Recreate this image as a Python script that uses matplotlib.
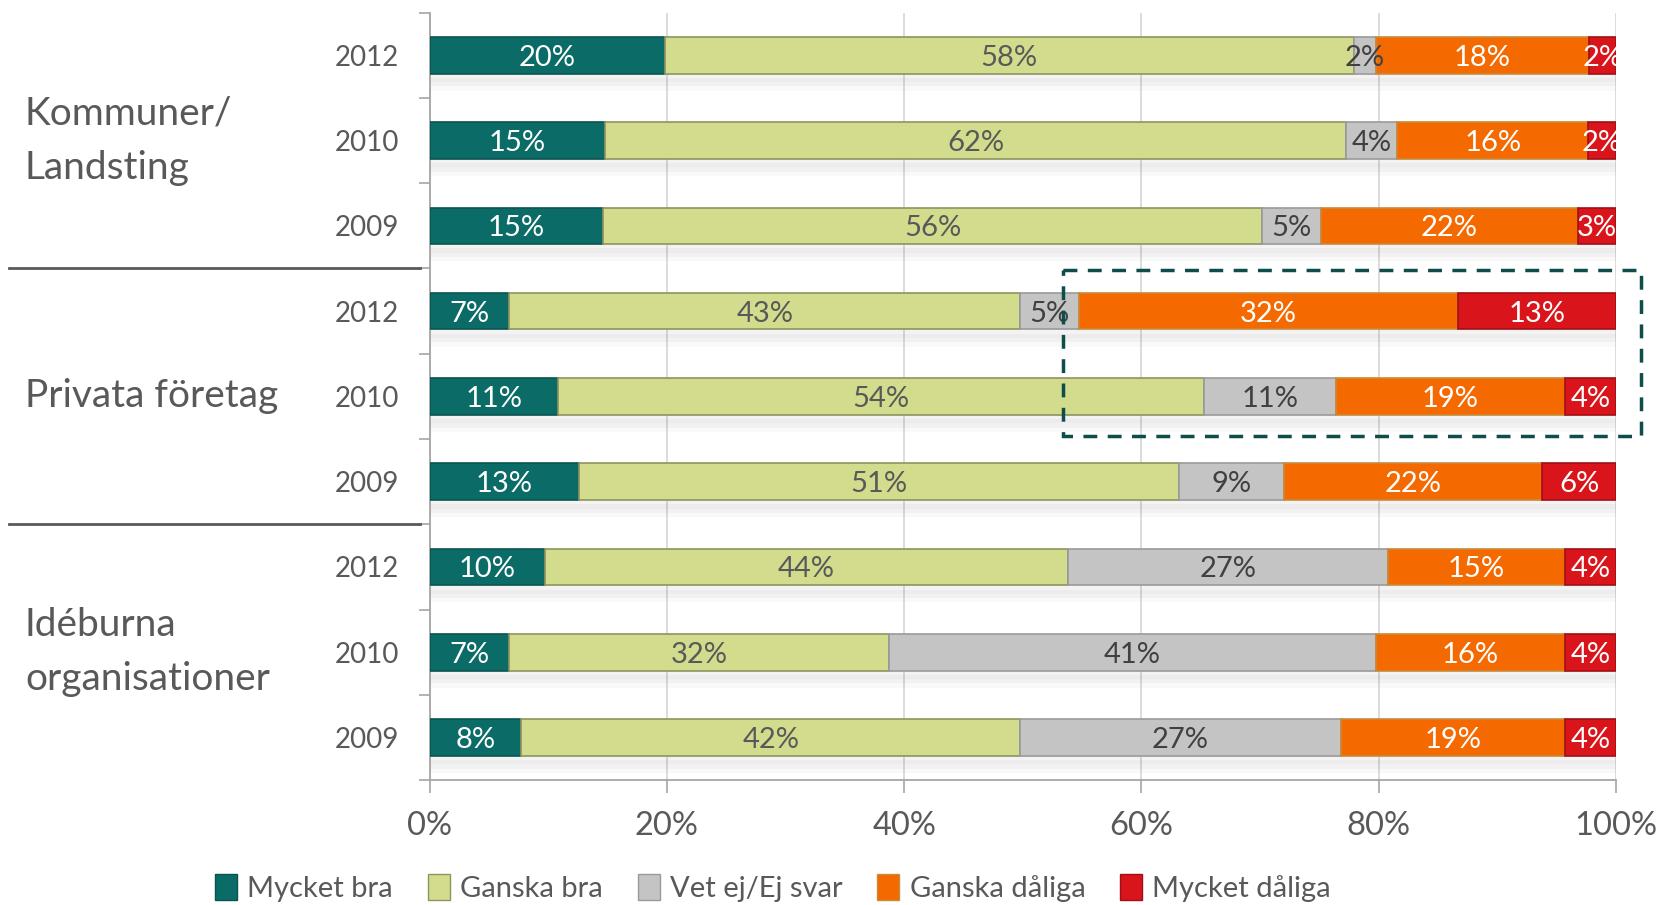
import matplotlib
matplotlib.use("Agg")
import matplotlib.pyplot as plt
from matplotlib.patches import Patch, Rectangle
import matplotlib.transforms as mtransforms
import numpy as np

plt.rcParams['font.family'] = ['Lato', 'DejaVu Sans']

years = ["2012", "2010", "2009", "2012", "2010", "2009", "2012", "2010", "2009"]
groups = ["Kommuner/\nLandsting", "Privata företag", "Idéburna\norganisationer"]
categories = ["Mycket bra", "Ganska bra", "Vet ej/Ej svar", "Ganska dåliga", "Mycket dåliga"]

mycket_bra    = [19.8, 14.8, 14.6, 6.7, 10.8, 12.6, 9.7, 6.7, 7.7]
ganska_bra    = [58.1, 62.49, 55.6, 43.1, 54.49, 50.6, 44.1, 32.0, 42.1]
vet_ej        = [1.9, 4.3, 4.9, 4.9, 11.1, 8.8, 27.0, 41.1, 27.0]
ganska_daliga = [17.9, 16.1, 21.7, 32.0, 19.3, 21.8, 14.9, 15.9, 18.9]
mycket_daliga = [2.3, 2.3, 3.2, 13.3, 4.3, 6.2, 4.3, 4.3, 4.3]

series = [mycket_bra, ganska_bra, vet_ej, ganska_daliga, mycket_daliga]
colors = ["#0B6B66", "#D3DC8C", "#C4C4C4", "#F46A00", "#D9141B"]
edges = ["#0A5450", "#8E9460", "#9A9A9A", "#C98A3A", "#A01015"]
text_colors = ["white", "#595959", "#404040", "white", "white"]

fig = plt.figure(figsize=(16.59, 9.05), dpi=100)
ax = fig.add_axes([0.259, 0.138, 0.715, 0.848])

y = np.arange(len(years))
left = np.zeros(len(years))
bar_h = 0.43
for vals, c, ec, tc in zip(series, colors, edges, text_colors):
    vals = np.array(vals)
    # soft shadow
    for k, a in enumerate([0.07, 0.05, 0.03]):
        ax.barh(y + bar_h / 2 + 0.05 + k * 0.05, vals, left=left, height=0.1,
                color="#6d5f5f", alpha=a, linewidth=0, zorder=1)
    ax.barh(y, vals, left=left, height=bar_h, color=c, edgecolor=ec,
            linewidth=1.2, zorder=3)
    for yi, (l, v) in enumerate(zip(left, vals)):
        ax.text(l + v / 2, yi + 0.03, f"{int(round(v))}%", ha="center", va="center",
                color=tc, fontsize=21, zorder=5)
    left = left + vals

ax.set_xlim(0, 100)
ax.set_ylim(8.5, -0.5)
ax.set_xticks(np.arange(0, 101, 20))
ax.set_xticklabels([f"{v}%" for v in range(0, 101, 20)])
ax.tick_params(axis="x", labelsize=23.5, labelcolor="#595959", color="#A6A6A6",
               length=9, width=1.2, pad=13)
ax.set_yticks(y)
ax.set_yticklabels(years)
ax.tick_params(axis="y", which="major", length=0, labelsize=20,
               labelcolor="#595959", pad=22)
ax.set_yticks(np.arange(-0.5, 9, 1), minor=True)
ax.tick_params(axis="y", which="minor", length=8, color="#A6A6A6", width=1.2)

ax.grid(axis="x", color="#D9D9D9", linewidth=1.3, zorder=0)
ax.set_axisbelow(True)
for s in ["top", "right"]:
    ax.spines[s].set_visible(False)
for s in ["left", "bottom"]:
    ax.spines[s].set_color("#A6A6A6")
    ax.spines[s].set_linewidth(1.3)

# group labels and separators
trans = mtransforms.blended_transform_factory(fig.transFigure, ax.transData)
for gi, g in enumerate(groups):
    ax.text(0.015, gi * 3 + 1, g, transform=trans, ha="left", va="center",
            fontsize=28, color="#595959", linespacing=1.62)
trans_ax = mtransforms.blended_transform_factory(ax.transAxes, ax.transData)
for yb in [2.5, 5.5]:
    ax.plot([-0.355, -0.008], [yb, yb], transform=trans_ax, color="#595959",
            linewidth=2, clip_on=False, zorder=4)

# dashed highlight box
box = Rectangle((53.4, 2.52), 48.7, 1.95, fill=False, edgecolor="#0E4D4A",
                linewidth=2.5, linestyle=(0, (4, 3)), clip_on=False, zorder=6)
ax.add_patch(box)

handles = [Patch(facecolor=c, edgecolor=ec, label=l)
           for c, ec, l in zip(colors, edges, categories)]
fig.legend(handles=handles, loc="center", bbox_to_anchor=(0.466, 0.019),
           ncol=5, frameon=False, fontsize=21, labelcolor="#595959",
           handlelength=0.75, handleheight=1.0, handletextpad=0.35,
           columnspacing=1.2)

fig.savefig("out.png", dpi=100)
